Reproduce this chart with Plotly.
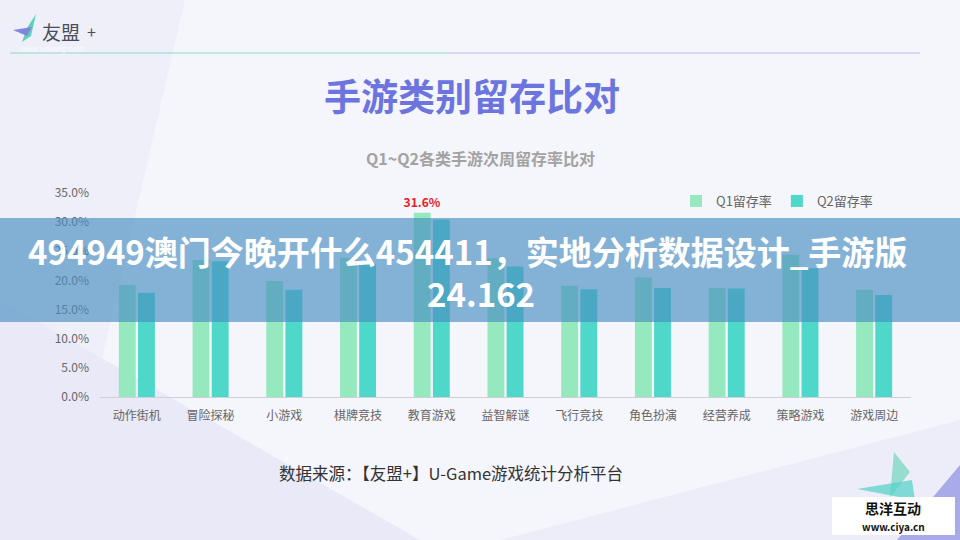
import plotly.graph_objects as go

# ---- data ----
categories = ["动作街机", "冒险探秘", "小游戏", "棋牌竞技", "教育游戏", "益智解谜",
              "飞行竞技", "角色扮演", "经营养成", "策略游戏", "游戏周边"]
q1_retention = [0.192, 0.235, 0.199, 0.239, 0.316, 0.238, 0.191, 0.205, 0.187, 0.244, 0.184]
q2_retention = [0.179, 0.233, 0.184, 0.228, 0.304, 0.224, 0.185, 0.187, 0.186, 0.221, 0.175]
highlight_label = {"教育游戏": "31.6%"}
y_ticks = [0, 0.05, 0.10, 0.15, 0.20, 0.25, 0.30, 0.35]

FONT = "Noto Sans CJK SC, Microsoft YaHei, sans-serif"
W, H = 960, 540
L, R, T, B = 100, 49, 193, 143
PW, PH = W - L - R, H - T - B


def px(x):
    return (x - L) / PW


def py(y):
    return (H - B - y) / PH


def path(points):
    return "M " + " L ".join(f"{px(x):.4f},{py(y):.4f}" for x, y in points) + " Z"


q1_text = [highlight_label.get(c, "") for c in categories]

fig = go.Figure()
fig.add_trace(go.Bar(
    name="Q1留存率", x=categories, y=q1_retention, marker_color="#96E8BE",
    marker_line_width=0, text=q1_text, textposition="outside", constraintext="none",
    textfont=dict(color="#E8201E", size=12, family=FONT, weight="bold"),
    cliponaxis=False, hoverinfo="skip",
))
fig.add_trace(go.Bar(
    name="Q2留存率", x=categories, y=q2_retention, marker_color="#4DD8C9",
    marker_line_width=0, hoverinfo="skip",
))

shapes = []
# background decoration
shapes.append(dict(type="path", xref="paper", yref="paper", layer="below",
                   path=path([(0, 0), (185, 0), (60, 540), (0, 540)]),
                   fillcolor="#EFEFF9", line_width=0))
shapes.append(dict(type="path", xref="paper", yref="paper", layer="below",
                   path=path([(0, 300), (420, 540), (0, 540)]),
                   fillcolor="#E9E9F7", line_width=0))
shapes.append(dict(type="path", xref="paper", yref="paper", layer="below",
                   path=path([(500, 540), (960, 420), (960, 540)]),
                   fillcolor="#EDEDF9", line_width=0))
shapes.append(dict(type="path", xref="paper", yref="paper", layer="below",
                   path=path([(897, 540), (960, 465), (960, 540)]),
                   fillcolor="#A9AAE8", line_width=0))
# small green triangles bottom right
shapes.append(dict(type="path", xref="paper", yref="paper", layer="below",
                   path=path([(894, 452), (910, 472), (890, 497)]),
                   fillcolor="rgba(120,215,190,0.75)", line_width=0))
shapes.append(dict(type="path", xref="paper", yref="paper", layer="below",
                   path=path([(857, 489), (912, 480), (915, 500)]),
                   fillcolor="rgba(80,210,200,0.7)", line_width=0))
# header line
shapes.append(dict(type="line", xref="paper", yref="paper", layer="below",
                   x0=px(10), x1=px(450), y0=py(53), y1=py(53),
                   line=dict(color="#90D9C6", width=1.2)))
shapes.append(dict(type="line", xref="paper", yref="paper", layer="below",
                   x0=px(450), x1=px(920), y0=py(53), y1=py(53),
                   line=dict(color="#B9B9EA", width=1.2)))
# logo icon
shapes.append(dict(type="path", xref="paper", yref="paper", layer="below",
                   path=path([(36, 14), (27, 28), (22, 42), (31, 36)]),
                   fillcolor="#5FD3B8", line_width=0))
shapes.append(dict(type="path", xref="paper", yref="paper", layer="below",
                   path=path([(13, 30), (32, 27), (27, 36)]),
                   fillcolor="#7E86E0", line_width=0))
# banner overlay
shapes.append(dict(type="rect", xref="paper", yref="paper", layer="above",
                   x0=px(0), x1=px(960), y0=py(218), y1=py(322),
                   fillcolor="rgba(73,142,194,0.66)", line_width=0))
# watermark box
shapes.append(dict(type="rect", xref="paper", yref="paper", layer="above",
                   x0=px(832), x1=px(955), y0=py(497), y1=py(535),
                   fillcolor="white", line_width=0))

ann = []


def text(x, y, s, size, color, bold=False, xanchor="center"):
    ann.append(dict(x=px(x), y=py(y), xref="paper", yref="paper", text=s,
                    showarrow=False, xanchor=xanchor, yanchor="middle",
                    font=dict(family=FONT, size=size, color=color,
                              weight="bold" if bold else "normal")))


text(40, 31, "友盟", 19, "#4A4D5C", xanchor="left")
text(85, 31, "+", 16, "#4A4D5C", xanchor="left")
text(17, 48, "www.umeng.com", 8, "rgba(255,255,255,0.7)", xanchor="left")
text(472, 95, "手游类别留存比对", 37, "#6C74DF", bold=True)
text(480, 158, "Q1~Q2各类手游次周留存率比对", 16, "#A3A3A3", bold=True)
text(451, 473, "数据来源：【友盟+】U-Game游戏统计分析平台", 16.5, "#333333")
text(467, 251, "494949澳门今晚开什么454411，实地分析数据设计_手游版", 33, "white", bold=True)
text(481, 293, "24.162", 33, "white", bold=True)
text(893, 508, "思洋互动", 14, "#111111", bold=True)
text(893, 526, "www.ciya.cn", 10, "#111111", bold=True)

fig.update_layout(
    width=W, height=H,
    margin=dict(l=L, r=R, t=T, b=B, pad=0),
    paper_bgcolor="#F5F5FC", plot_bgcolor="rgba(0,0,0,0)",
    font=dict(family=FONT, size=12, color="#666666"),
    barmode="group", bargap=0.48, bargroupgap=0.12,
    showlegend=True,
    legend=dict(orientation="h", x=px(878), y=py(201), xanchor="right", yanchor="middle",
                font=dict(size=13, color="#666666"), itemwidth=30,
                bgcolor="rgba(0,0,0,0)", traceorder="normal"),
    shapes=shapes, annotations=ann,
)
fig.update_xaxes(showgrid=False, showline=True, linecolor="#CFCFD8", linewidth=1,
                 ticks="", ticklabelstandoff=8,
                 tickfont=dict(size=12, color="#666666"), fixedrange=True)
fig.update_yaxes(range=[0, 0.35], tickvals=y_ticks, tickformat=".1%", showgrid=False,
                 zeroline=False, showline=False, ticks="", ticklabelstandoff=10,
                 tickfont=dict(size=12, color="#666666"), fixedrange=True)

fig.write_html("out.html", config={"displayModeBar": False},
               post_script="document.body.style.margin='0px';document.body.style.padding='0px';"
                           "document.body.style.overflow='hidden';")
